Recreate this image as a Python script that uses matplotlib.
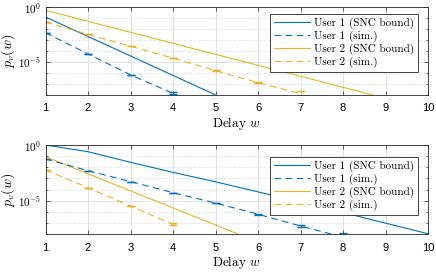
import numpy as np
import matplotlib
matplotlib.use('Agg')
import matplotlib.pyplot as plt
from matplotlib.ticker import FixedLocator, FuncFormatter, NullFormatter

plt.rcParams['font.family'] = 'Liberation Sans'
plt.rcParams['mathtext.fontset'] = 'cm'

# delay values
w = [1, 2, 3, 4, 5, 6, 7, 8, 9, 10]

# top panel (log10 of probabilities)
top_u1_bound = [-0.91, -2.68, -4.45, -6.22, -7.99]
top_u1_sim = [-2.34, -4.26, -6.17, -7.85]
top_u1_err = [0.0, 0.0, 0.02, 0.08]
top_u2_bound = [-0.3, -1.3, -2.3, -3.3, -4.3, -5.3, -6.3, -7.3, -8.3]
top_u2_sim = [-1.37, -2.49, -3.56, -4.65, -5.78, -6.87, -7.88]
top_u2_err = [0.0, 0.0, 0.0, 0.0, 0.03, 0.06, 0.25]

# bottom panel
bot_u1_bound = [0.0, -0.6, -1.55, -2.45, -3.3, -4.2, -5.1, -6.05, -7.0, -7.95]
bot_u1_sim = [-1.25, -2.3, -3.28, -4.27, -5.2, -6.2, -7.26, -8.25]
bot_u1_err = [0.0, 0.0, 0.0, 0.0, 0.02, 0.04, 0.1, 0.4]
bot_u2_bound = [-1.05, -2.58, -4.11, -5.64, -7.17, -8.7]
bot_u2_sim = [-2.24, -3.82, -5.47, -7.11]
bot_u2_err = [0.0, 0.0, 0.0, 0.08]

blue = '#0072BD'
yellow = '#EDB120'
labels = ['User 1 (SNC bound)', 'User 1 (sim.)', 'User 2 (SNC bound)', 'User 2 (sim.)']


def sim_line(ax, logv, loge, color):
    v = 10.0 ** np.array(logv)
    e = np.array(loge)
    yerr = [v - v * 10.0 ** (-e), v * 10.0 ** e - v]
    x = w[:len(v)]
    cont = ax.errorbar(x, v, yerr=yerr, color=color, lw=0.8, ls=(0, (6, 4)),
                       capsize=3, elinewidth=0.8, capthick=1.0)
    return cont[0]


def panel(ax, u1b, u1s, u1e, u2b, u2s, u2e, leg_anchor):
    h1, = ax.plot(w[:len(u1b)], 10.0 ** np.array(u1b), color=blue, lw=0.8)
    h2 = sim_line(ax, u1s, u1e, blue)
    h3, = ax.plot(w[:len(u2b)], 10.0 ** np.array(u2b), color=yellow, lw=0.8)
    h4 = sim_line(ax, u2s, u2e, yellow)
    ax.set_yscale('log')
    ax.set_xlim(1, 10)
    ax.set_ylim(1e-8, 1)
    ax.set_xticks(range(1, 11))
    ax.yaxis.set_major_locator(FixedLocator([1e-5, 1e0]))
    ax.yaxis.set_major_formatter(FuncFormatter(lambda v, p: r'$\mathsf{10^{%d}}$' % round(np.log10(v))))
    ax.yaxis.set_minor_locator(FixedLocator([10.0 ** k for k in range(-8, 1)]))
    ax.yaxis.set_minor_formatter(NullFormatter())
    ax.tick_params(which='both', direction='in', top=True, right=True,
                   labelsize=8, width=0.5, color='#262626')
    ax.tick_params(axis='x', pad=6)
    ax.tick_params(axis='y', pad=3, labelsize=8)
    ax.tick_params(which='major', length=3)
    ax.tick_params(which='minor', length=1.5)
    ax.grid(True, which='major', color='#dcdcdc', lw=0.6)
    ax.grid(True, which='minor', axis='y', color='#c8c8c8', lw=0.6, ls=(0, (1, 2)))
    ax.set_axisbelow(True)
    for s in ax.spines.values():
        s.set_linewidth(0.6)
        s.set_color('#262626')
    ax.set_xlabel('Delay $w$', family='cmr10', fontsize=9.5, labelpad=1)
    ax.set_ylabel('$p_v(w)$', fontsize=10)
    ax.yaxis.set_label_coords(-0.074, 0.5)
    leg = ax.legend([h1, h2, h3, h4], labels, loc='upper right', bbox_to_anchor=leg_anchor,
                    prop={'family': 'cmr10', 'size': 8}, fancybox=False,
                    edgecolor='#262626', framealpha=1, handlelength=3.2,
                    handletextpad=0.4, labelspacing=0.15, borderpad=0.35,
                    borderaxespad=0)
    leg.get_frame().set_linewidth(0.6)


fig = plt.figure(figsize=(4.36, 2.72), dpi=100)
ax1 = fig.add_axes([0.1044, 0.6507, 0.8773, 0.3235])
ax2 = fig.add_axes([0.1044, 0.1386, 0.8773, 0.3283])

panel(ax1, top_u1_bound, top_u1_sim, top_u1_err, top_u2_bound, top_u2_sim, top_u2_err, (0.974, 0.92))
panel(ax2, bot_u1_bound, bot_u1_sim, bot_u1_err, bot_u2_bound, bot_u2_sim, bot_u2_err, (0.974, 0.87))

fig.savefig('out.png', dpi=100)
